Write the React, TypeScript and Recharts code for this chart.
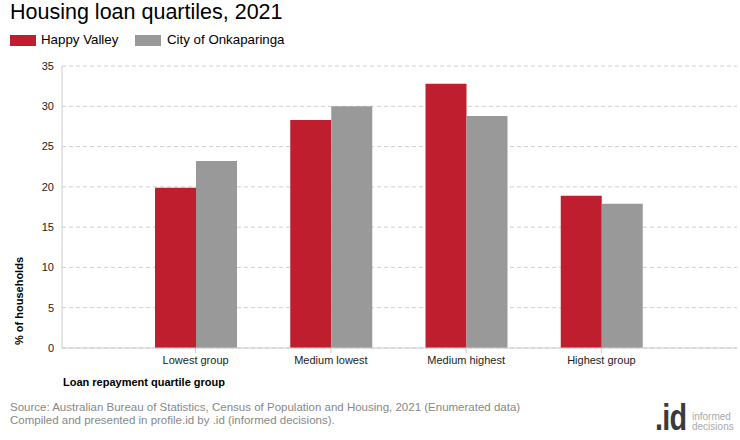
import React from "react";
import { BarChart, Bar, XAxis, YAxis, CartesianGrid } from "recharts";

const categories = ["Lowest group", "Medium lowest", "Medium highest", "Highest group"];
const happyValley = [19.9, 28.3, 32.8, 18.9];
const onkaparinga = [23.2, 30.0, 28.8, 17.9];
const yTicks = [0, 5, 10, 15, 20, 25, 30, 35];

const data = categories.map((c, i) => ({ name: c, hv: happyValley[i], onk: onkaparinga[i] }));

const RED = "#BF1E2E";
const GRAY = "#999999";
const FONT = "'Liberation Sans', Arial, sans-serif";

const YLabel = () => (
  <text
    x={23}
    y={345}
    transform="rotate(-90 23 345)"
    textAnchor="start"
    fontFamily={FONT}
    fontSize={11}
    fontWeight="bold"
    fill="#000"
  >
    % of households
  </text>
);

const XLabel = () => (
  <text x={63} y={386} textAnchor="start" fontFamily={FONT} fontSize={11} fontWeight="bold" fill="#000">
    Loan repayment quartile group
  </text>
);

export default function App() {
  return (
    <div style={{ position: "absolute", left: 0, top: 0, width: 740, height: 440, background: "#fff", fontFamily: FONT }}>
      <div style={{ position: "absolute", left: 10, top: 0, fontSize: 21.5, lineHeight: "25px", color: "#000", whiteSpace: "nowrap" }}>
        Housing loan quartiles, 2021
      </div>
      <div style={{ position: "absolute", left: 10, top: 35, width: 26, height: 11, background: RED }} />
      <div style={{ position: "absolute", left: 41, top: 32, fontSize: 13.3, lineHeight: "16px", color: "#000", whiteSpace: "nowrap" }}>
        Happy Valley
      </div>
      <div style={{ position: "absolute", left: 135, top: 35, width: 26, height: 11, background: GRAY }} />
      <div style={{ position: "absolute", left: 167, top: 32, fontSize: 13.3, lineHeight: "16px", color: "#000", whiteSpace: "nowrap" }}>
        City of Onkaparinga
      </div>

      <div style={{ position: "absolute", left: 0, top: 0 }}>
        <BarChart
          width={740}
          height={440}
          data={data}
          margin={{ top: 66, right: 3, left: 0, bottom: 62 }}
          barGap={0}
        >
          <CartesianGrid vertical={false} stroke="#d0d0d0" strokeDasharray="4 3" />
          <XAxis
            dataKey="name"
            height={30}
            padding={{ left: 66, right: 68 }}
            axisLine={{ stroke: "#cccccc" }}
            tickLine={{ stroke: "#cccccc" }}
            tickSize={5}
            tickMargin={3}
            tick={{ fontFamily: FONT, fontSize: 11, fill: "#222" }}
            interval={0}
            label={<XLabel />}
          />
          <YAxis
            width={62}
            domain={[0, 35]}
            ticks={yTicks}
            axisLine={{ stroke: "#cccccc" }}
            tickLine={false}
            tickSize={6}
            tickMargin={2}
            tick={{ fontFamily: FONT, fontSize: 11, fill: "#222" }}
            label={<YLabel />}
          />
          <Bar dataKey="hv" fill={RED} barSize={41} isAnimationActive={false} />
          <Bar dataKey="onk" fill={GRAY} barSize={41} isAnimationActive={false} />
        </BarChart>
      </div>

      <div style={{ position: "absolute", left: 10, top: 401, fontSize: 11.5, lineHeight: "13px", color: "#888", whiteSpace: "nowrap" }}>
        Source: Australian Bureau of Statistics, Census of Population and Housing, 2021 (Enumerated data)
        <br />
        Compiled and presented in profile.id by .id (informed decisions).
      </div>
      <div
        style={{
          position: "absolute",
          left: 655,
          top: 398,
          fontSize: 36,
          fontWeight: "bold",
          lineHeight: "40px",
          color: "#3a3a3a",
          letterSpacing: -1,
          transform: "scaleX(0.8)",
          transformOrigin: "left top",
          whiteSpace: "nowrap",
        }}
      >
        .id
      </div>
      <div style={{ position: "absolute", left: 692, top: 412, fontSize: 10, lineHeight: "10px", color: "#aaa", whiteSpace: "nowrap" }}>
        informed
        <br />
        decisions
      </div>
    </div>
  );
}
